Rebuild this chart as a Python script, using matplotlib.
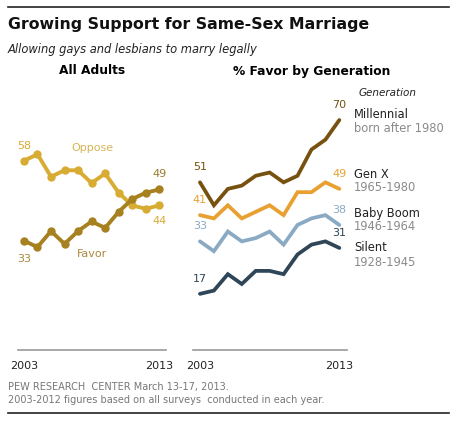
import matplotlib.pyplot as plt

W, H = 463, 428

years = list(range(2003, 2014))

# All adults
oppose = [58, 60, 53, 55, 55, 51, 54, 48, 44, 43, 44]
favor = [33, 31, 36, 32, 36, 39, 37, 42, 46, 48, 49]

# % favor by generation
millennial = [51, 44, 49, 50, 53, 54, 51, 53, 61, 64, 70]
gen_x = [41, 40, 44, 40, 42, 44, 41, 48, 48, 51, 49]
baby_boom = [33, 30, 36, 33, 34, 36, 32, 38, 40, 41, 38]
silent = [17, 18, 23, 20, 24, 24, 23, 29, 32, 33, 31]

gen_names = ["Millennial", "Gen X", "Baby Boom", "Silent"]
gen_years = ["born after 1980", "1965-1980", "1946-1964", "1928-1945"]

C_OPP = "#D8AC32"
C_FAV = "#A7801F"
C_MIL = "#77510F"
C_GENX = "#E8A030"
C_BOOM = "#8AAAC4"
C_SIL = "#2E4658"


def fx(px):
    return px / W


def fy(py):
    return 1 - py / H


def tx(x, y, s, **kw):
    fig.text(fx(x), fy(y), s, **kw)


def style_axis(ax):
    for side in ["left", "right", "top"]:
        ax.spines[side].set_visible(False)
    ax.spines["bottom"].set_color("#9a9a9a")
    ax.spines["bottom"].set_linewidth(1.2)
    ax.set_yticks([])
    ax.set_xticks([2003, 2013])
    ax.set_xticklabels(["2003", "2013"])
    ax.tick_params(axis="x", length=0, pad=8, labelsize=8, labelcolor="#222222")
    ax.patch.set_alpha(0)


fig = plt.figure(figsize=(W / 100, H / 100), dpi=100)

# rules
fig.add_artist(plt.Line2D([fx(8), fx(449)], [fy(7), fy(7)], color="#222222", lw=1.2))
fig.add_artist(plt.Line2D([fx(8), fx(449)], [fy(413), fy(413)], color="#222222", lw=1.2))

tx(8, 25, "Growing Support for Same-Sex Marriage", fontsize=11.3,
   fontweight="bold", color="#111111", va="center")
tx(8, 50, "Allowing gays and lesbians to marry legally", fontsize=8.3,
   style="italic", color="#222222", va="center")
tx(92, 71, "All Adults", fontsize=8.8, fontweight="bold", ha="center", va="center")
tx(312, 71, "% Favor by Generation", fontsize=8.8, fontweight="bold",
   ha="center", va="center")

# left panel
ax1 = fig.add_axes([fx(18), fy(350), fx(148), (350 - 100) / H])
ax1.set_xlim(2002.56, 2013.5)
ax1.set_ylim(-1.16, 76.97)
style_axis(ax1)
ax1.plot(years, oppose, color=C_OPP, lw=2.8, marker="o", ms=5,
         solid_capstyle="round", zorder=2)
ax1.plot(years, favor, color=C_FAV, lw=2.8, marker="o", ms=5,
         solid_capstyle="round", zorder=3)


def lab(ax, x, y, s, dy, color):
    ax.annotate(s, (x, y), xytext=(0, -dy), textcoords="offset pixels",
                ha="center", va="center", fontsize=8, color=color)


lab(ax1, years[0], oppose[0], str(oppose[0]), -15, C_OPP)
lab(ax1, years[-1], favor[-1], str(favor[-1]), -15, "#9A7A2A")
lab(ax1, years[-1], oppose[-1], str(oppose[-1]), 16, C_OPP)
lab(ax1, years[0], favor[0], str(favor[0]), 18, "#A8883A")
tx(92, 148, "Oppose", fontsize=8, color="#D8B455", ha="center", va="center")
tx(92, 254, "Favor", fontsize=8, color="#A8883A", ha="center", va="center")

# right panel
ax2 = fig.add_axes([fx(193), fy(350), fx(154), (350 - 100) / H])
ax2.set_xlim(2002.5, 2013.55)
ax2.set_ylim(-0.12, 76.1)
style_axis(ax2)
series = [millennial, gen_x, baby_boom, silent]
colors = [C_MIL, C_GENX, C_BOOM, C_SIL]
for vals, c in zip(series, colors):
    ax2.plot(years, vals, color=c, lw=2.7, solid_joinstyle="miter",
             solid_capstyle="round")
for vals, c in zip(series, colors):
    lab(ax2, years[0], vals[0], str(vals[0]), -15, c)
    lab(ax2, years[-1], vals[-1], str(vals[-1]), -15, c)

tx(359, 93, "Generation", fontsize=7.5, style="italic", color="#222222",
   va="center")
name_y = [115, 174, 213, 248]
for name, yrs, y in zip(gen_names, gen_years, name_y):
    tx(354, y, name, fontsize=8.3, color="#222222", va="center")
    tx(354, y + 14, yrs, fontsize=8.3, color="#8a8a8a", va="center")

# footer
tx(8, 387, "PEW RESEARCH  CENTER March 13-17, 2013.", fontsize=7,
   color="#777777", va="center")
tx(8, 400, "2003-2012 figures based on all surveys  conducted in each year.",
   fontsize=7, color="#777777", va="center")

fig.savefig("out.png", dpi=100)
